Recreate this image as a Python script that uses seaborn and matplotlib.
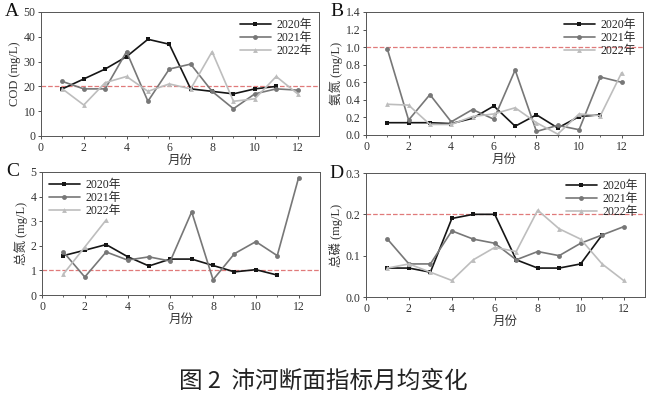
import pandas as pd
import matplotlib.pyplot as plt
import seaborn as sns

sns.set_theme(style="white")
plt.rcParams['font.family'] = ['Liberation Serif', 'Noto Sans CJK SC']
plt.rcParams['axes.unicode_minus'] = False

years = ["2020年", "2021年", "2022年"]
months = list(range(1, 13))

cod_2020 = [19, 23, 27, 32, 39, 37, 19, 18, 17, 19, 20]
cod_2021 = [22, 19, 19, 34, 14, 27, 29, 18, 11, 17, 19, 18.5]
cod_2022 = [19, 12.5, 21.5, 24, 18, 21, 19, 34, 14, 15, 24, 17]

nh_2020 = [0.14, 0.14, 0.14, 0.13, 0.19, 0.33, 0.10, 0.23, 0.08, 0.21, 0.23]
nh_2021 = [0.98, 0.17, 0.46, 0.15, 0.29, 0.18, 0.74, 0.04, 0.11, 0.06, 0.66, 0.60]
nh_2022 = [0.35, 0.34, 0.12, 0.12, 0.21, 0.24, 0.31, 0.14, 0.01, 0.24, 0.22, 0.71]

tn_2020 = [1.6, 1.82, 2.05, 1.56, 1.18, 1.46, 1.46, 1.2, 0.94, 1.03, 0.81]
tn_2021 = [1.75, 0.73, 1.75, 1.42, 1.55, 1.38, 3.38, 0.62, 1.68, 2.17, 1.6, 4.77]
tn_2022 = [0.85, 1.95, 3.05]

tp_2020 = [0.07, 0.07, 0.06, 0.19, 0.20, 0.20, 0.09, 0.07, 0.07, 0.08, 0.15]
tp_2021 = [0.14, 0.08, 0.08, 0.16, 0.14, 0.13, 0.09, 0.11, 0.10, 0.13, 0.15, 0.17]
tp_2022 = [0.07, 0.08, 0.06, 0.04, 0.09, 0.12, 0.11, 0.21, 0.165, 0.14, 0.08, 0.04]

panels = [
    ("A", "COD (mg/L)", [cod_2020, cod_2021, cod_2022], 20, (0, 50), [0, 10, 20, 30, 40, 50], "upper right"),
    ("B", "氨氮 (mg/L)", [nh_2020, nh_2021, nh_2022], 1.0, (0, 1.4), [0, 0.2, 0.4, 0.6, 0.8, 1.0, 1.2, 1.4], "upper right"),
    ("C", "总氮 (mg/L)", [tn_2020, tn_2021, tn_2022], 1.0, (0, 5), [0, 1, 2, 3, 4, 5], "upper left"),
    ("D", "总磷 (mg/L)", [tp_2020, tp_2021, tp_2022], 0.2, (0, 0.3), [0, 0.1, 0.2, 0.3], "upper right"),
]
ytick_fmt = ["{:.0f}", "{:.1f}", "{:.0f}", "{:.1f}"]
axes_pos = [
    [41 / 653, 1 - 136 / 396, 278 / 653, 124 / 396],
    [366 / 653, 1 - 135 / 396, 277 / 653, 123 / 396],
    [42 / 653, 1 - 295 / 396, 278 / 653, 123 / 396],
    [366 / 653, 1 - 297 / 396, 279 / 653, 124 / 396],
]
colors = ["#151515", "#777777", "#bdbdbd"]
markers = ["s", "o", "^"]

fig = plt.figure(figsize=(6.53, 3.96), dpi=100)

for i, (letter, ylab, series, std, ylim, yticks, loc) in enumerate(panels):
    ax = fig.add_axes(axes_pos[i])
    rows = []
    for yr, vals in zip(years, series):
        for m, v in zip(months, vals):
            rows.append({"月份": m, "value": v, "year": yr})
    df = pd.DataFrame(rows)
    sns.lineplot(data=df, x="月份", y="value", hue="year", style="year",
                 palette=colors, markers=markers, dashes=False,
                 markersize=3.5, markeredgewidth=0, linewidth=1.2, ax=ax)
    ax.axhline(std, color="#e07a7a", linestyle="--", linewidth=0.9, zorder=0)
    ax.set_xlim(0, 13)
    ax.set_ylim(*ylim)
    ax.set_xticks([0, 2, 4, 6, 8, 10, 12])
    ax.set_xticks(range(1, 13, 2), minor=True)
    ax.set_yticks(yticks)
    ax.set_yticklabels([ytick_fmt[i].format(t) for t in yticks])
    ax.tick_params(axis="both", which="major", labelsize=8.5, length=2.5, width=0.6,
                   direction="out", pad=1.5, colors="#333333", bottom=True, left=True)
    ax.tick_params(axis="both", which="minor", length=1.5, width=0.5, bottom=True)
    ax.set_xlabel("月份", fontsize=9, labelpad=1, color="#333333")
    ax.set_ylabel(ylab, fontsize=9, labelpad=2, color="#333333")
    for s in ax.spines.values():
        s.set_color("#555555")
        s.set_linewidth(0.7)
    ax.legend(loc=loc, frameon=False, fontsize=8.5, handlelength=2.6,
              borderaxespad=0.2, labelspacing=0.1, handletextpad=0.5)
    ax.text(-0.13, 1.0, letter, transform=ax.transAxes, fontsize=14,
            ha="left", va="center", color="#111111")

fig.text(0.495, 1 - 381 / 396, "图 2  沛河断面指标月均变化", fontsize=17,
         family=["Noto Sans CJK SC", "DejaVu Sans"], ha="center", va="center", color="#222222")

fig.savefig("out.png", dpi=100)
